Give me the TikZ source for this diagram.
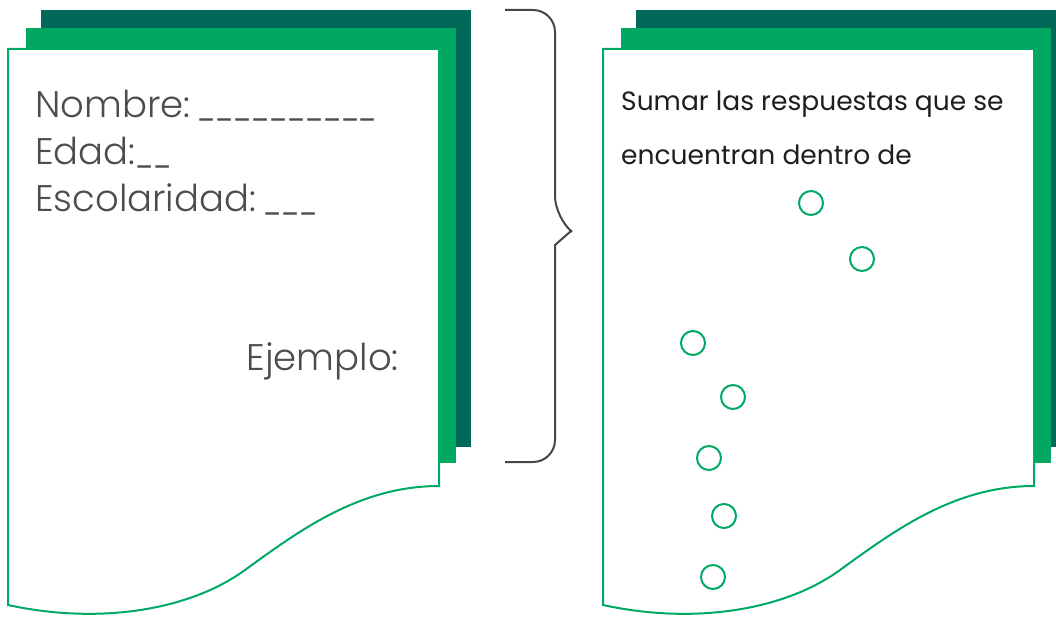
\documentclass[tikz,border=0pt]{standalone}
\usepackage{graphicx}
\usepackage{fontspec}
\IfFontExistsTF{Poppins Light}{\newfontfamily\lightfont{Poppins Light}}{\newfontfamily\lightfont{Poppins}}
\newfontfamily\regfont{Poppins}
\definecolor{darkgreen}{RGB}{0,105,90}
\definecolor{midgreen}{RGB}{0,168,98}
\definecolor{linegreen}{RGB}{0,170,100}
\definecolor{lighttext}{RGB}{77,77,77}
\definecolor{darktext}{RGB}{30,30,30}
\definecolor{bracegray}{RGB}{70,70,70}
\newcommand{\blanks}[1]{\scalebox{0.72}[1]{#1}}
\tikzset{
  backsheet/.style={fill=darkgreen, draw=none},
  midsheet/.style={fill=midgreen, draw=none},
  frontsheet/.style={fill=white, draw=linegreen, line width=2pt, line join=miter},
  formtext/.style={inner sep=0pt, anchor=base west, text=lighttext, font=\lightfont\fontsize{37}{45}\selectfont},
  ruletext/.style={inner sep=0pt, anchor=base west, text=darktext, font=\regfont\fontsize{26.5}{32}\selectfont},
  bubble/.style={circle, draw=linegreen, line width=2pt, minimum size=24pt, inner sep=0pt}
}
\begin{document}
\begin{tikzpicture}[x=1pt,y=-1pt]
\useasboundingbox (0,0) rectangle (1056,620);
\begin{scope}
\clip (0,0) rectangle (1056,620);
% left stack
\path[backsheet] (41,10) rectangle (471,447);
\path[midsheet] (26,28) rectangle (456,463);
\path[frontsheet] (8,49) -- (439,49) -- (439,486)
  .. controls (360,486) and (300,530) .. (245,570)
  .. controls (190,610) and (100,625) .. (8,605) -- cycle;
% right stack
\path[backsheet] (636,10) rectangle (1066,447);
\path[midsheet] (621,28) rectangle (1051,463);
\path[frontsheet] (603,49) -- (1034,49) -- (1034,486)
  .. controls (955,486) and (895,530) .. (840,570)
  .. controls (785,610) and (695,625) .. (603,605) -- cycle;
\end{scope}
% left texts
\node[formtext] (nombre) at (35,118) {Nombre:\hspace{7pt}\blanks{\_\_\_\_\_\_\_\_\_\_}};
\node[formtext] (edad) at (35,165) {Edad:\blanks{\_\_}};
\node[formtext] (escol) at (35,212) {Escolaridad:\hspace{7pt}\blanks{\_\_\_}};
\node[formtext, anchor=base east] (ejemplo) at (399,370) {Ejemplo:};
% brace
\coordinate (bt) at (505,10);
\coordinate (bb) at (505,462);
\draw[bracegray, line width=2pt, line join=miter]
  (bt) [rounded corners=22pt] -- (555,10) -- (555,218) [sharp corners] -- (571,231) -- (555,245)
  [rounded corners=22pt] -- (555,462) -- (bb);
% right texts
\node[ruletext] (r1) at (621,111) {Sumar las respuestas que se};
\node[ruletext] (r2) at (621,165) {encuentran dentro de};
% circles
\node[bubble] (c1) at (811,203) {};
\node[bubble] (c2) at (862,259) {};
\node[bubble] (c3) at (693,343) {};
\node[bubble] (c4) at (733,397) {};
\node[bubble] (c5) at (709,458) {};
\node[bubble] (c6) at (724,516) {};
\node[bubble] (c7) at (713,577) {};
\end{tikzpicture}
\end{document}
